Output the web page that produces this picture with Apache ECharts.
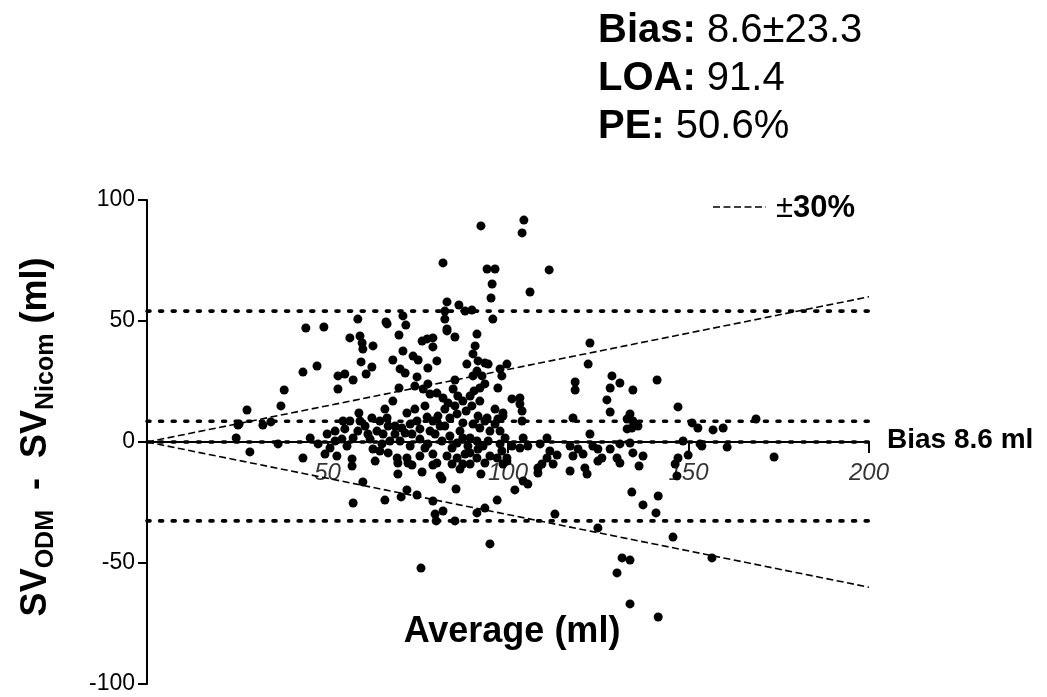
<!DOCTYPE html>
<html><head><meta charset="utf-8">
<script src="https://cdn.jsdelivr.net/npm/echarts@6/dist/echarts.min.js"></script>
<style>html,body{margin:0;padding:0;background:#fff}#c{width:1047px;height:697px}</style>
</head><body><div id="c"></div>
<script>
// Average (ml) of each measurement pair
const avgValues = [
44.0,43.2,38.0,37.1,27.7,25.5,25.2,32.1,34.3,24.7,36.3,28.5,43.2,45.2,
82.0,83.1,86.4,88.1,82.5,82.5,58.4,66.2,66.5,70.9,71.7,49.0,83.1,
92.5,104.4,103.9,94.2,96.4,111.4,95.6,106.1,95.3,90.0,95.8,
56.2,59.0,59.6,59.8,62.6,69.8,76.2,77.6,79.2,79.2,83.1,85.3,
47.1,59.3,62.3,60.7,68.1,70.9,73.7,75.1,70.1,71.5,77.8,80.3,88.6,
52.9,54.8,57.1,74.8,52.9,69.8,85.3,74.2,76.5,77.8,78.4,80.3,82.0,84.8,86.1,87.5,
68.1,65.9,74.2,77.0,82.5,72.0,58.7,56.2,54.3,62.3,64.5,66.5,68.7,70.6,72.9,74.8,77.6,79.2,81.2,83.9,85.9,87.5,
58.4,60.4,61.2,49.9,52.1,54.0,55.4,57.1,63.7,65.4,67.3,65.1,62.6,64.5,66.8,70.1,72.9,75.6,77.8,79.8,81.7,83.9,85.9,87.5,
50.7,49.3,52.6,69.3,72.0,75.6,79.2,83.1,85.9,88.1,56.8,
90.9,90.3,91.7,93.6,94.5,91.4,122.7,122.2,99.7,97.8,98.3,91.4,90.3,92.8,93.6,92.2,97.2,118.6,118.6,128.8,131.0,128.3,127.4,128.3,
101.1,103.3,103.3,103.9,90.0,96.4,98.6,91.7,94.2,97.2,98.6,103.9,118.0,133.0,90.3,92.2,95.0,97.8,133.0,122.7,
89.5,91.4,93.1,94.5,91.7,97.8,98.3,104.2,105.5,103.3,110.8,108.9,117.2,119.4,123.5,124.9,128.3,131.0,
95.0,97.0,99.7,111.6,113.6,110.8,118.0,120.8,126.0,130.2,91.4,89.5,
141.3,134.6,147.1,133.8,134.6,136.0,134.3,151.0,152.6,156.8,159.6,168.7,148.5,153.2,153.7,160.7,133.8,134.6,137.4,147.1,149.9,173.7,
56.8,63.2,69.5,72.3,73.4,79.2,80.3,84.5,87.5,69.5,76.2,81.2,81.7,59.8,85.6,72.0,70.4,74.8,57.1,65.9,79.2,79.8,82.0,80.1,85.3,75.9,
92.5,98.6,99.7,108.3,108.3,109.4,112.5,104.2,105.5,101.9,117.2,121.3,121.9,124.9,131.0,134.3,97.0,93.6,91.4,113.0,124.9,95.0,131.6,133.8,130.2,133.8,
136.3,146.3,146.8,141.6,137.4,141.0,145.7,156.5,141.6,
83.4,85.3,86.7,88.9,82.5,80.6,84.5,75.6,77.0,68.7,71.5,59.0,61.8,54.8,52.1,47.4,66.8,73.4,78.4,88.4,
89.5,90.6,92.2,93.6,96.4,99.2,101.1,89.5,86.7,93.6
];
// SV_ODM - SV_Nicom (ml) of each pair
const diffValues = [
47.1,28.9,21.5,14.9,13.2,7.4,7.0,7.0,8.3,1.7,-0.8,-4.1,-6.6,1.7,
74.0,57.9,56.6,54.1,54.1,50.8,50.8,49.6,48.8,52.1,48.3,47.5,46.7,
89.3,91.7,86.4,71.5,71.5,71.1,65.3,62.0,59.5,54.5,50.8,
43.0,43.8,40.9,38.4,39.7,44.2,41.7,42.6,43.0,39.3,45.9,43.4,
31.4,33.1,31.0,28.1,33.9,37.6,35.5,33.9,30.2,28.5,30.6,33.5,32.2,
27.3,28.1,25.6,26.9,21.9,22.3,25.6,23.1,21.9,24.0,19.8,20.2,18.2,21.9,19.0,16.9,
16.9,13.6,13.6,14.9,13.6,12.0,12.0,8.7,8.7,9.9,8.7,9.9,6.6,5.8,7.4,8.7,10.3,8.7,6.6,9.9,11.6,7.9,
4.5,6.6,3.3,3.3,4.5,1.2,-1.7,1.7,4.5,3.3,0.4,-0.8,-2.9,-3.7,-4.5,0.4,-1.7,1.2,-0.8,3.3,0.4,2.5,-0.4,1.7,
-2.5,-5.0,-5.8,-6.6,-6.6,-5.8,-5.0,-5.8,-6.6,-5.0,-7.0,
39.7,36.4,33.5,32.6,32.2,44.6,40.9,32.2,32.2,30.2,27.3,29.3,27.3,27.3,24.0,22.3,22.3,24.8,21.5,27.3,24.4,22.3,17.4,12.4,
17.8,18.2,15.7,12.8,14.9,13.6,12.0,10.7,9.9,9.5,10.7,8.7,9.9,9.5,7.4,5.8,4.5,4.5,5.4,3.3,
1.7,0.4,-1.7,0.4,-2.9,-0.8,-3.7,1.7,-1.7,-2.5,1.7,-0.8,-1.7,-2.9,-1.7,-2.9,-2.9,-0.8,
-5.8,-6.6,-6.6,-3.7,-5.4,-6.6,-5.8,-5.0,-6.6,-6.6,-6.6,-4.5,
25.6,21.5,14.5,11.6,8.7,6.6,5.8,7.9,5.8,5.0,5.8,9.5,0.4,-0.8,-1.7,-2.1,-0.4,-4.5,-5.8,-6.6,-5.4,-6.2,
-9.9,-7.9,-8.7,-8.7,-9.5,-9.5,-8.7,-9.1,-9.1,-13.2,-12.4,-14.0,-15.3,-16.5,-19.4,-19.8,-22.7,-21.9,-25.2,-24.0,-24.4,-29.8,-28.5,-32.6,-32.6,-52.1,
-13.2,-9.1,-7.9,-10.7,-12.8,-9.1,-9.1,-16.1,-17.4,-19.8,-12.0,-10.7,-13.2,-7.9,-8.7,-20.7,-24.0,-27.3,-29.3,-29.8,-35.5,-42.1,-47.9,-48.8,-54.1,-66.9,
-9.9,-9.1,-14.0,-22.3,-26.0,-29.3,-39.3,-47.9,-72.3,
16.1,14.9,4.5,-1.7,6.6,10.7,-2.5,5.4,-2.5,3.3,3.7,8.7,1.2,5.4,0.4,-0.8,6.6,3.3,4.5,12.8,
19.0,21.1,16.9,8.7,7.4,1.7,-1.7,-9.1,-11.2,-8.7
];
const biasLine = [8.6];
const limitLines = [54.1, -32.6];
const zeroLine = [0];
const percentLimit = [0.30];
const xRange = [0, 200];
const xTicks = [50, 100, 150, 200];
const yTicks = [-100, -50, 0, 50, 100];
const statsLabels = ['Bias:', 'LOA:', 'PE:'];
const statsValues = ['8.6±23.3', '91.4', '50.6%'];

const FONT = 'Arial, "Liberation Sans", Helvetica, sans-serif';
const chart = echarts.init(document.getElementById('c'), null, {renderer: 'canvas'});

const dotted = {color: '#000', width: 3.6, type: [3, 9.6], cap: 'round'};
const dashed = {color: '#000', width: 1.6, type: [7, 3.5]};

function hLine(v) {
  return {type: 'line', data: [[xRange[0], v], [xRange[1], v]], symbol: 'none',
    lineStyle: dotted, silent: true, z: 3};
}
const series = [];
limitLines.concat(biasLine).concat(zeroLine).forEach(v => series.push(hLine(v)));
[1, -1].forEach(s => series.push({type: 'line', symbol: 'none', silent: true, z: 3,
  data: [[xRange[0], 0], [xRange[1], s * percentLimit[0] * xRange[1]]], lineStyle: dashed}));
series.push({type: 'scatter', symbolSize: 9, itemStyle: {color: '#000', opacity: 1},
  data: avgValues.map((a, i) => [a, diffValues[i]]), z: 5});
// x tick labels placed under the zero line
series.push({type: 'scatter', symbolSize: 1, silent: true, z: 6,
  itemStyle: {color: 'rgba(0,0,0,0)'},
  data: xTicks.map(v => [v, 0]),
  label: {show: true, position: 'bottom', distance: 19, formatter: p => String(p.value[0]),
    fontSize: 24, fontStyle: 'italic', fontFamily: FONT, color: '#000'}});

const graphic = [];
statsLabels.forEach((l, i) => graphic.push({type: 'text', x: 598, y: 31 + 48 * i,
  style: {text: '{b|' + l + '}{n| ' + statsValues[i] + '}', textVerticalAlign: 'middle',
    rich: {b: {font: 'bold 40px ' + FONT, fill: '#000'}, n: {font: '40px ' + FONT, fill: '#000'}}}}));
graphic.push({type: 'line', shape: {x1: 713, y1: 207, x2: 766, y2: 207},
  style: {stroke: '#000', lineWidth: 1.6, lineDash: [7, 3.5]}});
graphic.push({type: 'text', x: 776, y: 208, style: {text: '{n|±}{b|30%}', textVerticalAlign: 'middle',
  rich: {b: {font: 'bold 31px ' + FONT, fill: '#000'}, n: {font: '31px ' + FONT, fill: '#000'}}}});
graphic.push({type: 'text', x: 887, y: 440, style: {text: 'Bias ' + biasLine[0] + ' ml',
  font: 'bold 28px ' + FONT, fill: '#000', textVerticalAlign: 'middle'}});
graphic.push({type: 'text', x: 512, y: 632, style: {text: 'Average (ml)',
  font: 'bold 36px ' + FONT, fill: '#000', textAlign: 'center', textVerticalAlign: 'middle'}});
graphic.push({type: 'text', x: 36, y: 437, rotation: Math.PI / 2,
  style: {text: '{b|SV}{s|ODM}{b|  -  SV}{s|Nicom}{b| (ml)}', textAlign: 'center', textVerticalAlign: 'middle',
    rich: {b: {font: 'bold 36px ' + FONT, fill: '#000', lineHeight: 46, verticalAlign: 'middle'},
           s: {font: 'bold 25px ' + FONT, fill: '#000', lineHeight: 46, verticalAlign: 'bottom'}}}});

chart.setOption({
  animation: false,
  backgroundColor: '#fff',
  grid: {left: 147, top: 200, width: 722, height: 484, containLabel: false, outerBoundsMode: 'none'},
  xAxis: {type: 'value', min: xRange[0], max: xRange[1], interval: 50,
    axisLine: {show: true, onZero: true, lineStyle: {color: '#000', width: 2}},
    axisTick: {show: true, length: 11, lineStyle: {color: '#000', width: 2}},
    axisLabel: {show: false},
    splitLine: {show: false}},
  yAxis: {type: 'value', min: yTicks[0], max: yTicks[yTicks.length - 1], interval: 50,
    axisLine: {show: true, onZero: false, lineStyle: {color: '#000', width: 2}},
    axisTick: {show: true, length: 9, lineStyle: {color: '#000', width: 2}},
    axisLabel: {margin: 12, fontSize: 23, color: '#000', fontFamily: FONT},
    splitLine: {show: false}},
  series: series,
  graphic: graphic
});
</script></body></html>
